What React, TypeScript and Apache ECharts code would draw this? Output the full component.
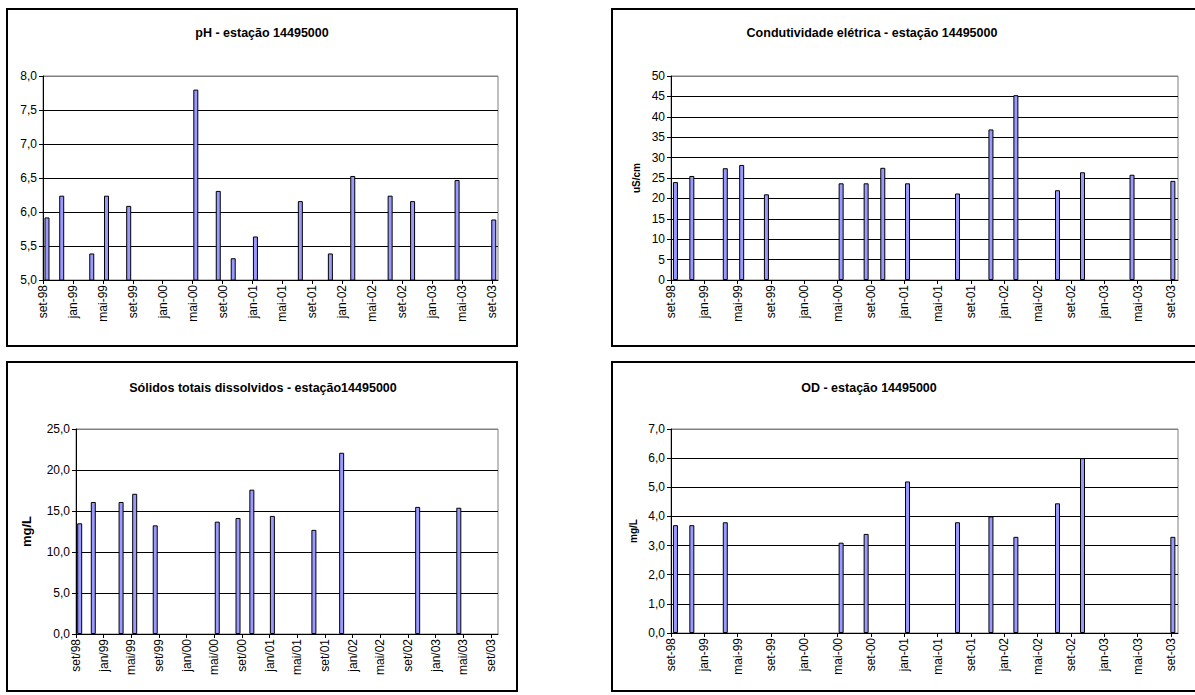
import React, { useEffect, useRef } from "react";
import * as echarts from "echarts";

// Sampling dates (shared by the four parameters)
const sampleDates = [
  "1998-09-17", "1998-11-16", "1999-03-17", "1999-05-16", "1999-08-15",
  "2000-05-14", "2000-08-14", "2000-10-14", "2001-01-13", "2001-07-13",
  "2001-11-13", "2002-02-12", "2002-07-13", "2002-10-13", "2003-04-11",
  "2003-09-08",
];

// Values per parameter (null = no measurement)
const phValues = [5.92, 6.24, 5.39, 6.24, 6.09, 7.8, 6.31, 5.32, 5.64, 6.16, 5.39, 6.53, 6.24, 6.16, 6.47, 5.89];
const condValues = [24.0, 25.5, 27.4, 28.2, 21.0, 23.7, 23.7, 27.5, 23.7, 21.2, 36.9, 45.3, 22.0, 26.4, 25.8, 24.3];
const sdtValues = [13.5, 16.1, 16.1, 17.1, 13.25, 13.7, 14.15, 17.6, 14.4, 12.7, 22.1, null, null, 15.5, 15.4, null];
const odValues = [3.7, 3.7, 3.8, null, null, 3.1, 3.4, null, 5.2, 3.8, 4.0, 3.3, 4.45, 6.0, null, 3.3];

// Tick labels on the date axes
const tickLabelsDash = ["set-98", "jan-99", "mai-99", "set-99", "jan-00", "mai-00", "set-00", "jan-01", "mai-01", "set-01", "jan-02", "mai-02", "set-02", "jan-03", "mai-03", "set-03"];
const tickLabelsSlash = ["set/98", "jan/99", "mai/99", "set/99", "jan/00", "mai/00", "set/00", "jan/01", "mai/01", "set/01", "jan/02", "mai/02", "set/02", "jan/03", "mai/03", "set/03"];

const monthNames = ["jan", "fev", "mar", "abr", "mai", "jun", "jul", "ago", "set", "out", "nov", "dez"];

// months since jan-1998
function dateToMonth(d: string): number {
  const [y, m, day] = d.split("-").map(Number);
  const dim = new Date(y, m, 0).getDate();
  return (y - 1998) * 12 + (m - 1) + (day - 1) / dim;
}
function labelToMonth(l: string): number {
  const mo = monthNames.indexOf(l.slice(0, 3));
  const yy = Number(l.slice(4));
  const year = yy > 50 ? 1900 + yy : 2000 + yy;
  return (year - 1998) * 12 + mo;
}

const FONT = "Liberation Sans";

function seriesData(values: (number | null)[]) {
  const out: [number, number][] = [];
  sampleDates.forEach((d, i) => {
    const v = values[i];
    if (v !== null && v !== undefined) out.push([dateToMonth(d), v]);
  });
  return out;
}

export default function App() {
  const ref = useRef<HTMLDivElement>(null);

  useEffect(() => {
    if (!ref.current) return;
    const chart = echarts.init(ref.current, null, { renderer: "svg" });

    const tickVals = tickLabelsDash.map(labelToMonth);

    const mkX = (gridIndex: number, max: number, labels: string[]) => {
      const map: Record<string, string> = {};
      labels.forEach((l) => (map[String(labelToMonth(l))] = l));
      return {
        type: "value",
        gridIndex,
        min: 8,
        max,
        axisLine: { show: true, onZero: false, lineStyle: { color: "#000", width: 1 } },
        axisTick: { show: true, customValues: tickVals, length: 4, lineStyle: { color: "#000" } },
        axisLabel: {
          customValues: tickVals,
          rotate: 90,
          margin: 5,
          fontSize: 12,
          fontFamily: FONT,
          color: "#000",
          formatter: (v: number) => map[String(Math.round(v))] ?? "",
        },
        splitLine: { show: false },
      };
    };

    const mkY = (
      gridIndex: number,
      min: number,
      max: number,
      interval: number,
      decimals: number,
      name: string,
      nameGap: number,
      nameSize: number
    ) => {
      const n = Math.round((max - min) / interval) + 1;
      const colors = Array.from({ length: n }, (_, i) => (i === n - 1 ? "#808080" : "#000"));
      return {
        type: "value",
        gridIndex,
        min,
        max,
        interval,
        axisLine: { show: true, lineStyle: { color: "#000", width: 1 } },
        axisTick: { show: true, length: 4, lineStyle: { color: "#000" } },
        axisLabel: {
          fontSize: 12,
          fontFamily: FONT,
          color: "#000",
          margin: 6,
          formatter: (v: number) => v.toFixed(decimals).replace(".", ","),
        },
        splitLine: { show: true, lineStyle: { color: colors, width: 1 } },
        name,
        nameLocation: "middle",
        nameRotate: 90,
        nameGap,
        nameTextStyle: { fontWeight: "bold", fontSize: nameSize, color: "#000", fontFamily: FONT },
      };
    };

    const barStyle = { color: "#9999FF", borderColor: "#000", borderWidth: 1 };
    const mkSeries = (idx: number, values: (number | null)[], name: string) => ({
      type: "bar",
      name,
      xAxisIndex: idx,
      yAxisIndex: idx,
      barWidth: 5,
      data: seriesData(values),
      itemStyle: barStyle,
    });

    const gridBase = { show: true, borderColor: "#808080", borderWidth: 1, backgroundColor: "transparent" };

    const titleStyle = { fontFamily: FONT, fontWeight: "bold", fontSize: 12.5, fill: "#000", textAlign: "center", textVerticalAlign: "middle" };
    const box = (x: number, y: number, w: number, h: number) => ({
      type: "rect",
      shape: { x, y, width: w, height: h },
      style: { fill: "none", stroke: "#000", lineWidth: 2 },
      silent: true,
    });

    chart.setOption({
      animation: false,
      backgroundColor: "#fff",
      grid: [
        { ...gridBase, left: 43, top: 76, width: 455, height: 204 },
        { ...gridBase, left: 671, top: 76, width: 507, height: 204 },
        { ...gridBase, left: 76, top: 429, width: 422, height: 205 },
        { ...gridBase, left: 671, top: 429, width: 507, height: 204 },
      ],
      xAxis: [
        mkX(0, 68.8, tickLabelsDash),
        mkX(1, 68.85, tickLabelsDash),
        mkX(2, 69.0, tickLabelsSlash),
        mkX(3, 68.85, tickLabelsDash),
      ],
      yAxis: [
        mkY(0, 5, 8, 0.5, 1, "", 30, 11),
        mkY(1, 0, 50, 5, 0, "uS/cm", 30, 10),
        mkY(2, 0, 25, 5, 1, "mg/L", 43, 13),
        mkY(3, 0, 7, 1, 1, "mg/L", 33, 10),
      ],
      series: [
        mkSeries(0, phValues, "pH"),
        mkSeries(1, condValues, "Condutividade elétrica"),
        mkSeries(2, sdtValues, "Sólidos totais dissolvidos"),
        mkSeries(3, odValues, "OD"),
      ],
      graphic: [
        box(7, 9, 510, 337),
        box(612, 9, 600, 337),
        box(7, 362, 510, 329),
        box(612, 362, 600, 329),
        { type: "text", x: 262, y: 33, style: { ...titleStyle, text: "pH - estação 14495000" }, silent: true },
        { type: "text", x: 872, y: 33, style: { ...titleStyle, text: "Condutividade elétrica - estação 14495000" }, silent: true },
        { type: "text", x: 263, y: 388, style: { ...titleStyle, text: "Sólidos totais dissolvidos - estação14495000" }, silent: true },
        { type: "text", x: 869, y: 388, style: { ...titleStyle, text: "OD - estação 14495000" }, silent: true },
      ],
    });

    return () => chart.dispose();
  }, []);

  return (
    <div
      ref={ref}
      style={{ position: "absolute", left: 0, top: 0, width: 1195, height: 695, background: "#fff" }}
    />
  );
}
